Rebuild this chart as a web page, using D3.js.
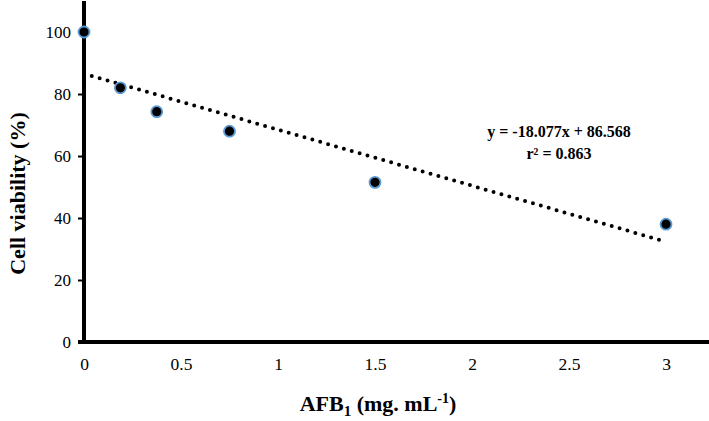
<!DOCTYPE html>
<html>
<head>
<meta charset="utf-8">
<script src="https://cdn.jsdelivr.net/npm/d3@7"></script>
<style>
	body { margin: 0; background: #fff; }
	svg text { font-family: "Liberation Serif", "Times New Roman", serif !important; }
</style>
</head>
<body>
<svg id="chart" width="709" height="421"></svg>
<script>
// data
let doses = [0, 0.1875, 0.375, 0.75, 1.5, 3];
let viability = [100, 82, 74.3, 68, 51.5, 38];
let xTicks = [0, 0.5, 1, 1.5, 2, 2.5, 3];
let yTicks = [0, 20, 40, 60, 80, 100];
let slope = -18.077;
let intercept = 86.568;
let eqLabels = ["y = -18.077x + 86.568", "r² = 0.863"];

let size = { w: 709, h: 421 };
let svg = d3.select("#chart");

let x = d3.scaleLinear().domain([0, 3]).range([84, 666]);
let y = d3.scaleLinear().domain([0, 110]).range([342, 1]);

// y axis
let yAxisG = svg.append("g").attr("transform", `translate(${x(0)},0)`);
yAxisG.call(d3.axisLeft(y).tickValues(yTicks).tickSize(6).tickPadding(7));
yAxisG.select(".domain").remove();
yAxisG.selectAll(".tick line").attr("stroke", "#000").attr("stroke-width", 2);
yAxisG.selectAll(".tick text").attr("font-size", 17).attr("dy", "0.35em");

svg.append("line")
	.attr("x1", x(0)).attr("x2", x(0))
	.attr("y1", y(110)).attr("y2", y(0) + 2)
	.attr("stroke", "#000").attr("stroke-width", 4);

// x axis
let xAxisG = svg.append("g").attr("transform", `translate(0,${y(0)})`);
xAxisG.call(d3.axisBottom(x).tickValues(xTicks).tickFormat(d3.format("~g")).tickSize(0).tickPadding(16));
xAxisG.select(".domain").remove();
xAxisG.selectAll(".tick text").attr("font-size", 17.5);

svg.append("line")
	.attr("x1", x(0) - 6).attr("x2", size.w)
	.attr("y1", y(0)).attr("y2", y(0))
	.attr("stroke", "#000").attr("stroke-width", 4);

// trend line
svg.append("line")
	.attr("x1", x(0.04)).attr("y1", y(slope * 0.04 + intercept))
	.attr("x2", x(3)).attr("y2", y(slope * 3 + intercept))
	.attr("stroke", "#000")
	.attr("stroke-width", 4)
	.attr("stroke-linecap", "round")
	.attr("stroke-dasharray", "0,8.2");

// points
svg.selectAll("circle.pt")
	.data(doses.map((d, i) => ({ dose: d, v: viability[i] })))
	.join("circle")
	.attr("class", "pt")
	.attr("cx", (d) => x(d.dose))
	.attr("cy", (d) => y(d.v))
	.attr("r", 5.5)
	.attr("fill", "#000")
	.attr("stroke", "#5b9bd5")
	.attr("stroke-width", 1.8);

// equation
svg.selectAll("text.eq")
	.data(eqLabels)
	.join("text")
	.attr("class", "eq")
	.attr("x", 559)
	.attr("y", (d, i) => 137 + i * 22)
	.attr("text-anchor", "middle")
	.attr("font-size", 16)
	.attr("font-weight", "bold")
	.text((d) => d);

// axis titles
svg.append("text")
	.attr("transform", `translate(25,${(y(0) + y(110)) / 2 + 22}) rotate(-90)`)
	.attr("text-anchor", "middle")
	.attr("font-size", 22)
	.attr("font-weight", "bold")
	.text("Cell viability (%)");

let xt = svg.append("text")
	.attr("x", 378)
	.attr("y", 411)
	.attr("text-anchor", "middle")
	.attr("font-size", 22)
	.attr("font-weight", "bold");
xt.append("tspan").text("AFB");
xt.append("tspan").attr("dy", 5).attr("font-size", 15).text("1");
xt.append("tspan").attr("dy", -5).text(" (mg. mL");
xt.append("tspan").attr("dy", -8).attr("font-size", 14).text("-1");
xt.append("tspan").attr("dy", 8).text(")");
</script>
</body>
</html>
